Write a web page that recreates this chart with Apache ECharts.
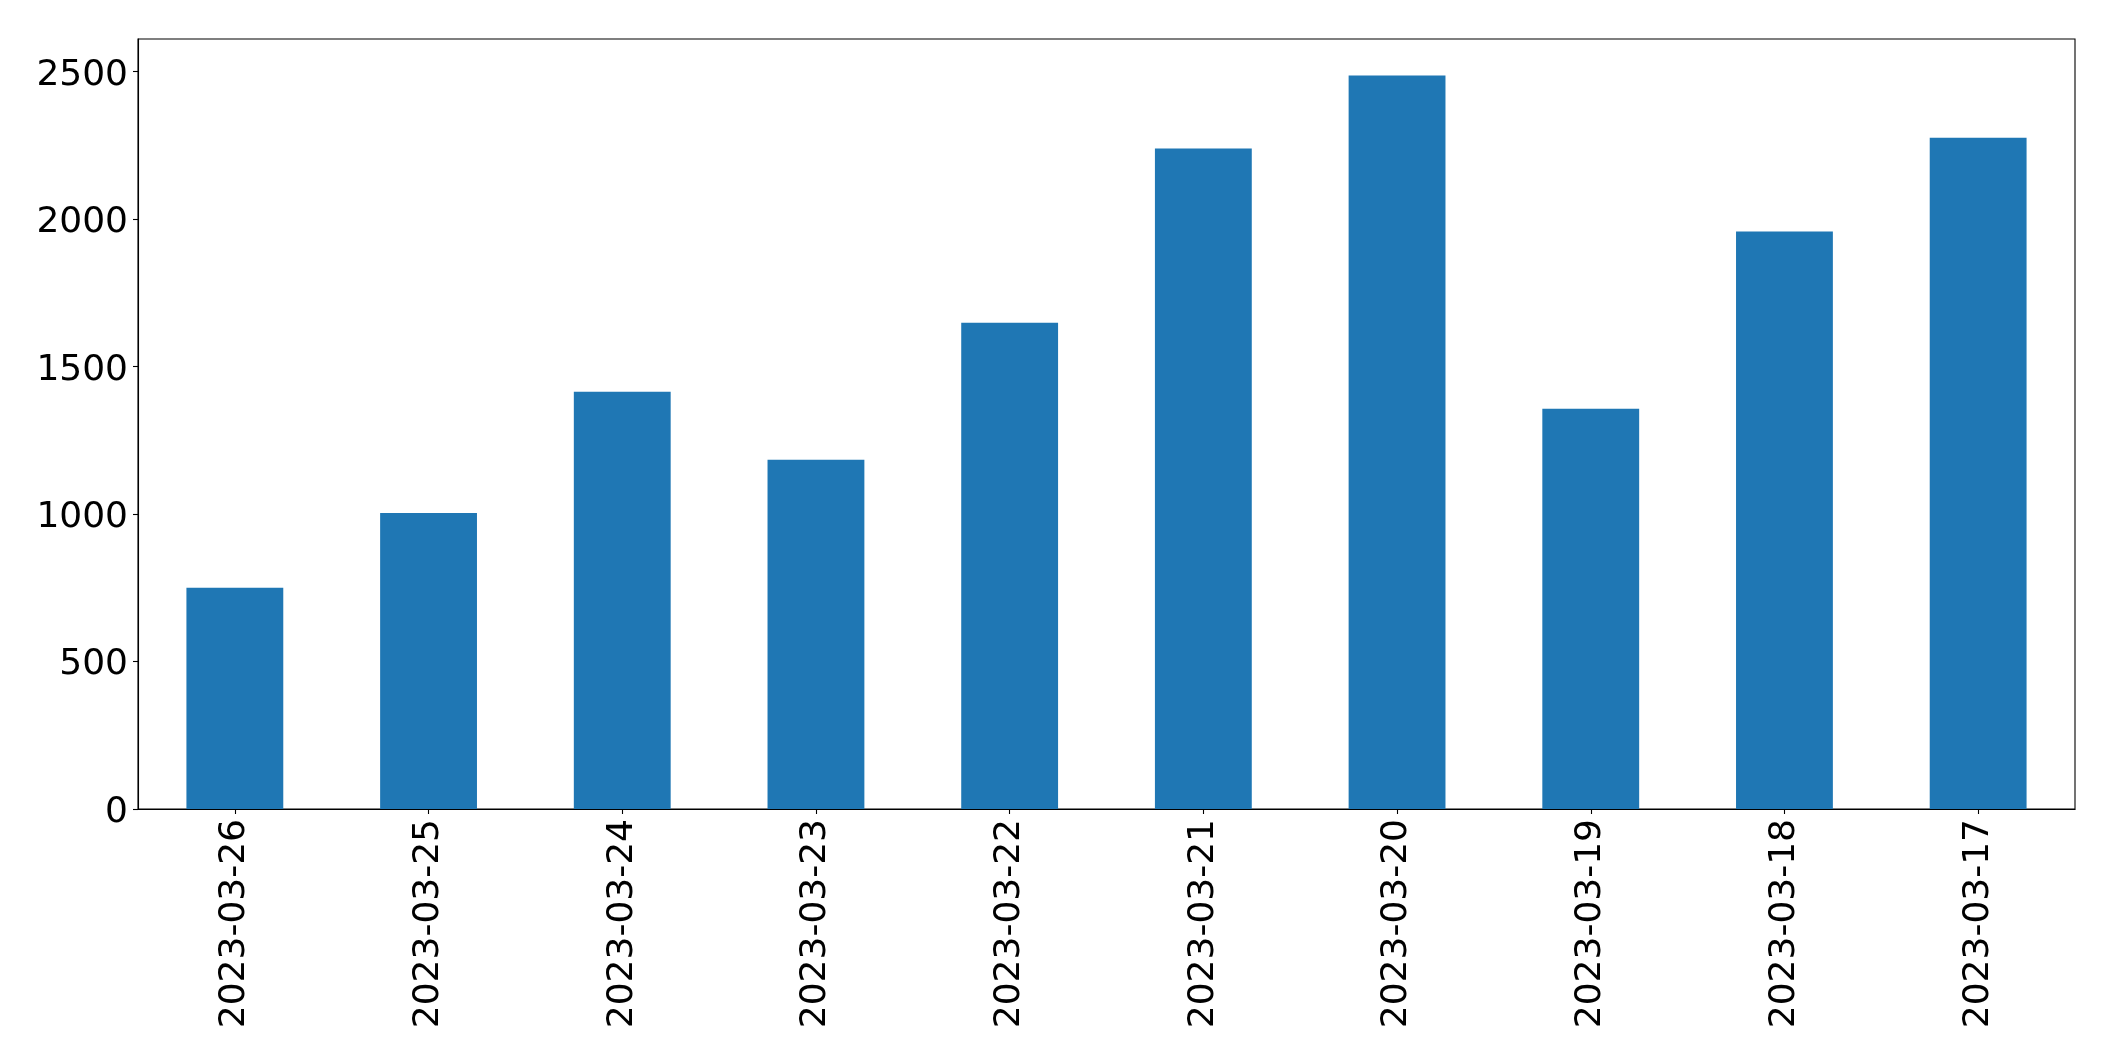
<!DOCTYPE html>
<html>
<head>
<meta charset="utf-8">
<script src="https://cdn.jsdelivr.net/npm/echarts@6/dist/echarts.min.js"></script>
<style>
html,body{margin:0;padding:0;background:#fff;}
#chart{width:2115px;height:1061px;}
</style>
</head>
<body>
<div id="chart"></div>
<script>
const categories = ['2023-03-26','2023-03-25','2023-03-24','2023-03-23','2023-03-22','2023-03-21','2023-03-20','2023-03-19','2023-03-18','2023-03-17'];
const values = [750, 1004, 1415, 1184, 1649, 2240, 2487, 1357, 1958, 2276];
const yTicks = [0, 500, 1000, 1500, 2000, 2500];
const yMax = 2611;

const chart = echarts.init(document.getElementById('chart'), null, {renderer: 'canvas'});
const font = 'DejaVu Sans';
chart.setOption({
  animation: false,
  backgroundColor: '#ffffff',
  grid: {
    left: 138, right: 40, top: 39, bottom: 252,
    show: true, borderColor: '#000000', borderWidth: 1.1, backgroundColor: 'transparent'
  },
  xAxis: {
    type: 'category',
    data: categories,
    boundaryGap: true,
    axisLine: {show: true, lineStyle: {color: '#000000', width: 1.1}},
    axisTick: {show: true, alignWithLabel: true, length: 5, lineStyle: {color: '#000000', width: 1.1}},
    axisLabel: {rotate: 90, margin: 10, color: '#000000', fontSize: 36, fontFamily: font, interval: 0},
    splitLine: {show: false}
  },
  yAxis: {
    type: 'value',
    min: 0,
    max: yMax,
    interval: 500,
    axisLine: {show: true, lineStyle: {color: '#000000', width: 1.1}},
    axisTick: {show: true, length: 5, lineStyle: {color: '#000000', width: 1.1}, customValues: yTicks},
    axisLabel: {margin: 10, color: '#000000', fontSize: 36, fontFamily: font, customValues: yTicks,
      verticalAlign: 'top', lineHeight: 7,
      formatter: function (v) { return String(v); }},
    splitLine: {show: false}
  },
  series: [{
    type: 'bar',
    data: values,
    barWidth: '50%',
    itemStyle: {color: '#1f77b4'}
  }]
});
</script>
</body>
</html>
